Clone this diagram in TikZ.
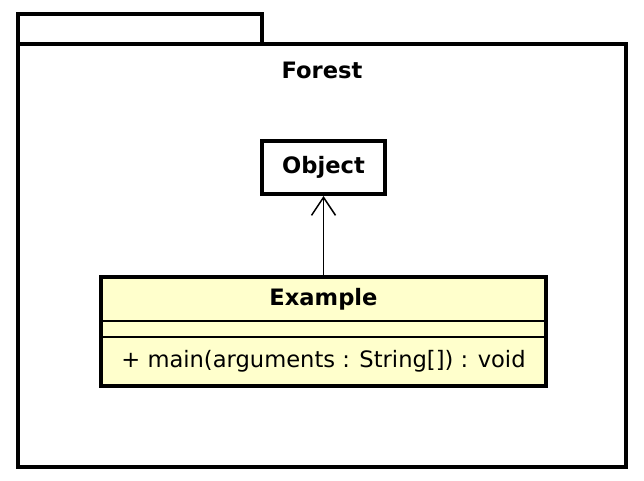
\documentclass[tikz,border=0pt]{standalone}
\usepackage{fontspec}
\setmainfont{DejaVu Sans}
\usetikzlibrary{positioning,arrows.meta}
\definecolor{classfill}{HTML}{FFFFCC}

\begin{document}
\begin{tikzpicture}[x=1pt,y=-1pt,node distance=83pt,font=\fontsize{22.6}{27}\selectfont]
      \tikzstyle{pkg} = [draw=black, line width=3.5pt]
      \tikzstyle{title} = [font=\fontsize{22.6}{27}\selectfont\bfseries]
      \tikzstyle{classbox} = [rectangle, title, draw=black, line width=3.5pt, inner sep=0pt, outer sep=0pt]
      \tikzstyle{part} = [rectangle, draw=black, line width=1.2pt, fill=classfill, inner sep=0pt, outer sep=0pt, minimum width=445pt]
      \tikzstyle{arrow} = [line width=1.5pt, shorten >=2pt, -{Straight Barb[length=18pt,width=24pt]}]

      \useasboundingbox (0,0) rectangle (644,480);

      % package frame
      \draw [pkg] (18,14) rectangle (262,44);
      \draw [pkg] (18,44) rectangle (626,467);
      \node (forest) [title] at (322,70) {Forest};

      \node (object) [classbox, minimum width=123pt, minimum height=53pt] at (323.5,167.5) {Object};
      \node (example-head) [part, title, minimum height=44pt, below=of object] {Example};
      \node (example-attr) [part, minimum height=16pt, below=0pt of example-head] {};
      \node (example-ops) [part, minimum height=49pt, below=0pt of example-attr] {+ main(arguments : String[]) : void};
      \draw [line width=3.5pt] (example-head.north west) rectangle (example-ops.south east);

      \draw [arrow] (example-head) -- (object);
    \end{tikzpicture}
\end{document}
